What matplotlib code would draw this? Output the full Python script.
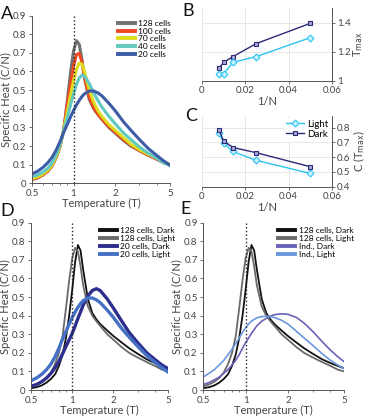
import numpy as np
import matplotlib.pyplot as plt
from matplotlib.ticker import FixedLocator, NullFormatter, LogLocator

plt.rc('font', family=['Lato', 'DejaVu Sans'], size=7)
plt.rc('axes', edgecolor='#555555', labelcolor='#444444', linewidth=0.7)
plt.rc('xtick', color='#555555', labelcolor='#444444')
plt.rc('ytick', color='#555555', labelcolor='#444444')

# data ------------------------------------------------------------------
temp = [0.5, 0.55, 0.6, 0.65, 0.7, 0.75, 0.8, 0.85, 0.9, 0.95, 1.0, 1.05,
        1.1, 1.15, 1.2, 1.3, 1.4, 1.5, 1.6, 1.8, 2.0, 2.3, 2.6, 3.0, 3.5,
        4.0, 4.5, 5.0]

# panel A, light condition, by network size
c128 = [0.02, 0.03, 0.045, 0.065, 0.095, 0.14, 0.20, 0.29, 0.44, 0.59,
        0.71, 0.765, 0.745, 0.665, 0.565, 0.45, 0.40, 0.37, 0.345, 0.30,
        0.27, 0.23, 0.20, 0.175, 0.15, 0.13, 0.11, 0.10]
c100 = [0.02, 0.03, 0.045, 0.065, 0.095, 0.14, 0.20, 0.29, 0.42, 0.53,
        0.63, 0.69, 0.697, 0.65, 0.57, 0.46, 0.405, 0.37, 0.345, 0.305,
        0.275, 0.235, 0.205, 0.175, 0.15, 0.13, 0.115, 0.10]
c70 = [0.025, 0.035, 0.05, 0.07, 0.10, 0.145, 0.205, 0.29, 0.38, 0.47,
       0.55, 0.61, 0.645, 0.64, 0.60, 0.50, 0.435, 0.39, 0.36, 0.315, 0.285,
       0.245, 0.21, 0.18, 0.155, 0.135, 0.115, 0.10]
c40 = [0.035, 0.045, 0.06, 0.08, 0.11, 0.155, 0.21, 0.285, 0.35, 0.42,
       0.48, 0.53, 0.565, 0.58, 0.575, 0.535, 0.485, 0.445, 0.41, 0.36,
       0.32, 0.27, 0.235, 0.195, 0.16, 0.135, 0.11, 0.095]
c20 = [0.05, 0.065, 0.085, 0.11, 0.14, 0.18, 0.225, 0.275, 0.315, 0.355,
       0.39, 0.42, 0.445, 0.465, 0.48, 0.495, 0.495, 0.485, 0.47, 0.43,
       0.39, 0.33, 0.285, 0.235, 0.185, 0.15, 0.12, 0.097]
sizes = ['128 cells', '100 cells', '70 cells', '40 cells', '20 cells']

# dark condition
c128_dark = [0.01, 0.015, 0.025, 0.04, 0.06, 0.085, 0.13, 0.19, 0.28, 0.40,
             0.54, 0.69, 0.78, 0.75, 0.65, 0.49, 0.415, 0.38, 0.355, 0.32,
             0.29, 0.255, 0.225, 0.195, 0.165, 0.145, 0.13, 0.117]
c20_dark = [0.02, 0.03, 0.045, 0.065, 0.09, 0.12, 0.155, 0.195, 0.235, 0.27,
            0.305, 0.345, 0.385, 0.42, 0.455, 0.505, 0.535, 0.545, 0.535,
            0.49, 0.44, 0.37, 0.31, 0.255, 0.20, 0.165, 0.135, 0.115]

# independent model
ind_dark = [0.03, 0.04, 0.055, 0.07, 0.09, 0.11, 0.135, 0.16, 0.19, 0.225,
            0.255, 0.28, 0.305, 0.325, 0.345, 0.37, 0.385, 0.397, 0.405,
            0.41, 0.407, 0.39, 0.36, 0.315, 0.26, 0.215, 0.18, 0.153]
ind_light = [0.07, 0.09, 0.11, 0.135, 0.16, 0.19, 0.22, 0.25, 0.28, 0.31,
             0.335, 0.355, 0.37, 0.38, 0.388, 0.395, 0.397, 0.395, 0.39,
             0.375, 0.355, 0.315, 0.28, 0.24, 0.195, 0.16, 0.135, 0.115]

# panels B and C
inv_n = [1/128, 1/100, 1/70, 1/40, 1/20]
tmax_light = [1.048, 1.048, 1.128, 1.167, 1.297]
tmax_dark = [1.087, 1.128, 1.167, 1.256, 1.395]
cmax_light = [0.766, 0.695, 0.638, 0.578, 0.490]
cmax_dark = [0.785, 0.708, 0.665, 0.630, 0.535]

col_sizes = ['#707070', '#f04a23', '#dede1e', '#62c9c0', '#3d5ba6']
navy = '#2b2a78'
cyan = '#2cc5f2'

# figure ---------------------------------------------------------------
W, H = 366, 416
fig = plt.figure(figsize=(W/100, H/100), dpi=100)


def box(l, t, r, b):
    return [l/W, 1 - b/H, (r - l)/W, (b - t)/H]


def heat_axes(ax):
    ax.set_xscale('log')
    ax.set_xlim(0.5, 5)
    ax.set_ylim(0, 0.9)
    ax.xaxis.set_major_locator(FixedLocator([0.5, 1, 2, 5]))
    ax.set_xticklabels(['0.5', '1', '2', '5'])
    ax.xaxis.set_minor_locator(LogLocator(subs=np.arange(2, 10)))
    ax.xaxis.set_minor_formatter(NullFormatter())
    ax.set_yticks(np.arange(0, 0.91, 0.1))
    ax.set_yticklabels(['0'] + ['%.1f' % v for v in np.arange(0.1, 0.91, 0.1)])
    ax.spines[['top', 'right']].set_visible(False)
    ax.tick_params(which='both', direction='out', pad=1.5, labelsize=7)
    ax.tick_params(which='major', length=2.5, width=0.6)
    ax.tick_params(which='minor', length=1.5, width=0.5)
    ax.axvline(1, color='#222222', ls=':', lw=1)
    ax.set_xlabel('Temperature (T)', fontsize=8, labelpad=0)
    ax.set_ylabel('Specific Heat (C/N)', fontsize=8, labelpad=1)


def heat_legend(ax, x, y):
    leg = ax.legend(loc='upper left', bbox_to_anchor=(x, y), fontsize=6,
                    frameon=False, handlelength=2.1, labelspacing=0.1,
                    borderaxespad=0, borderpad=0, handletextpad=0.4)
    for h in leg.get_lines():
        h.set_linewidth(2.8)


# A
axA = fig.add_axes(box(32, 15.5, 170, 183.3))
for curve, lab, c in zip([c128, c100, c70, c40, c20], sizes, col_sizes):
    axA.plot(temp, curve, color=c, lw=2.2, label=lab)
heat_axes(axA)
heat_legend(axA, 0.62, 0.975)


def small_axes(ax, ylab):
    ax.set_xlim(0, 0.06)
    ax.set_xticks([0, 0.02, 0.04, 0.06])
    ax.set_xticklabels(['0', '0.02', '0.04', '0.06'])
    ax.yaxis.tick_right()
    ax.yaxis.set_label_position('right')
    ax.spines[['top', 'left']].set_visible(False)
    ax.grid(color='#e4e4e4', lw=0.6)
    ax.set_axisbelow(True)
    ax.tick_params(direction='out', length=2.5, width=0.6, pad=1,
                   labelsize=7)
    ax.set_xlabel('1/N', fontsize=8, labelpad=1)
    ax.set_ylabel(ylab, fontsize=8)
    ax.yaxis.set_label_coords(1.15, 0.5)


# B
axB = fig.add_axes(box(202, 8, 332, 81))
axB.plot(inv_n, tmax_dark, color=navy, lw=1, marker='s', ms=3.5,
         mfc='#a9a9d6', mec=navy, mew=0.8)
axB.plot(inv_n, tmax_light, color=cyan, lw=1, marker='D', ms=3.5,
         mfc='#c8f0ff', mec=cyan, mew=0.8)
axB.set_ylim(1, 1.5)
axB.set_yticks([1, 1.2, 1.4])
axB.set_yticklabels(['1', '1.2', '1.4'])
small_axes(axB, r'T$_{\rm max}$')

# C
axC = fig.add_axes(box(202, 115.7, 332, 186.7))
axC.plot(inv_n, cmax_light, color=cyan, lw=1, marker='D', ms=3.5,
         mfc='#c8f0ff', mec=cyan, mew=0.8, label='Light')
axC.plot(inv_n, cmax_dark, color=navy, lw=1, marker='s', ms=3.5,
         mfc='#a9a9d6', mec=navy, mew=0.8, label='Dark')
axC.set_ylim(0.4, 0.88)
axC.set_yticks([0.4, 0.5, 0.6, 0.7, 0.8])
small_axes(axC, r'C (T$_{\rm max}$)')
axC.legend(loc='upper right', fontsize=7, frameon=True, fancybox=False,
           edgecolor='white', handlelength=1.8, labelspacing=0.1,
           borderaxespad=0.2, borderpad=0.2, handletextpad=0.3)

# D
axD = fig.add_axes(box(31, 222.7, 168, 390))
axD.plot(temp, c128_dark, color='#111111', lw=1.3, label='128 cells, Dark')
axD.plot(temp, c128, color='#6a6a6a', lw=1.3, label='128 cells, Light')
axD.plot(temp, c20_dark, color='#2c2f8c', lw=2.4, label='20 cells, Dark')
axD.plot(temp, c20, color='#4570c4', lw=2.4, label='20 cells, Light')
heat_axes(axD)
heat_legend(axD, 0.50, 0.975)

# E
axE = fig.add_axes(box(203.3, 222.7, 344, 390))
axE.plot(temp, c128_dark, color='#111111', lw=1.3, label='128 cells, Dark')
axE.plot(temp, c128, color='#6a6a6a', lw=1.3, label='128 cells, Light')
axE.plot(temp, ind_dark, color='#6a62b8', lw=1.2, label='Ind., Dark')
axE.plot(temp, ind_light, color='#6a98dc', lw=1.2, label='Ind., Light')
heat_axes(axE)
heat_legend(axE, 0.53, 0.975)

# panel letters
for letter, (x, y) in zip('ABCDE', [(1, 14), (182, 11), (185, 116),
                                     (0, 211), (180, 209)]):
    fig.text(x/W, 1 - y/H, letter, fontsize=13, va='center', ha='left',
             color='#111111')

fig.savefig('out.png', dpi=100)
